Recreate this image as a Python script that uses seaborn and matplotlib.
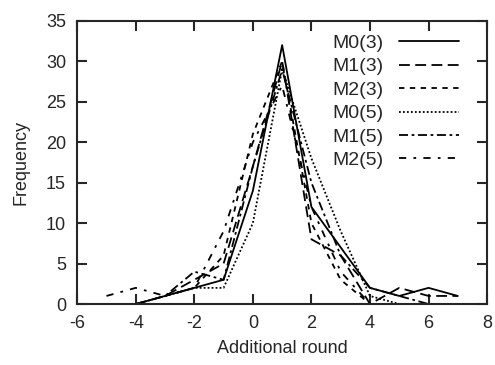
import matplotlib
matplotlib.use("Agg")
import matplotlib.pyplot as plt
import seaborn as sns
import pandas as pd
import numpy as np

sns.set_style("ticks")
plt.rcParams['font.family'] = ['Liberation Sans', 'DejaVu Sans']
plt.rcParams['axes.unicode_minus'] = False

# data
rounds = [-5, -4, -3, -2, -1, 0, 1, 2, 3, 4, 5, 6, 7]
nan = np.nan
m0_3 = [nan, 0, 1, 2, 3, 14, 32, 12, 7, 2, 1, 2, 1]
m1_3 = [nan, 0, 1, 3, 5, 17, 30, 8, 6, 0, 2, 1, 1]
m2_3 = [nan, nan, 1, 2, 6, 21, 30, 10, 3, 0, nan, nan, nan]
m0_5 = [nan, nan, 1, 2, 2, 10, 29, 18, 9, 1, 0, nan, nan]
m1_5 = [nan, 0, 1, 4, 3, 17, 29, 15, 6, 2, 1, 0, nan]
m2_5 = [1, 2, 1, 2, 9, 20, 27, 12, 4, 0, nan, nan, nan]
names = ['M0(3)', 'M1(3)', 'M2(3)', 'M0(5)', 'M1(5)', 'M2(5)']
series = [m0_3, m1_3, m2_3, m0_5, m1_5, m2_5]

df = pd.concat([pd.DataFrame({'round': rounds, 'freq': s, 'run': n})
                for n, s in zip(names, series)]).dropna()

dashes = {'M0(3)': '', 'M1(3)': (6, 3), 'M2(3)': (3, 3),
          'M0(5)': (1, 1.2), 'M1(5)': (5, 2, 1.5, 2), 'M2(5)': (4, 4, 1.5, 4)}

fig = plt.figure(figsize=(4.95, 3.65), dpi=100)
ax = fig.add_axes([0.156, 0.167, 0.828, 0.776])
sns.lineplot(data=df, x='round', y='freq', style='run', style_order=names,
             dashes=dashes, color='black', linewidth=1.3, ax=ax)

ax.set_xlim(-6, 8)
ax.set_ylim(0, 35)
ax.set_xticks(range(-6, 9, 2))
ax.set_yticks(range(0, 36, 5))
ax.set_xlabel('Additional round', fontsize=13, labelpad=6)
ax.set_ylabel('Frequency', fontsize=13, labelpad=12)
ax.tick_params(direction='in', length=7, width=1.5, labelsize=13,
               top=True, right=True, pad=8)
for sp in ax.spines.values():
    sp.set_linewidth(1.5)
    sp.set_visible(True)

ax.legend(loc='upper right', frameon=False, markerfirst=False, fontsize=14,
          handlelength=3.1, labelspacing=0.3, handletextpad=0.8,
          borderaxespad=0.3, bbox_to_anchor=(0.965, 1.0))

fig.savefig('out.png', dpi=100)
